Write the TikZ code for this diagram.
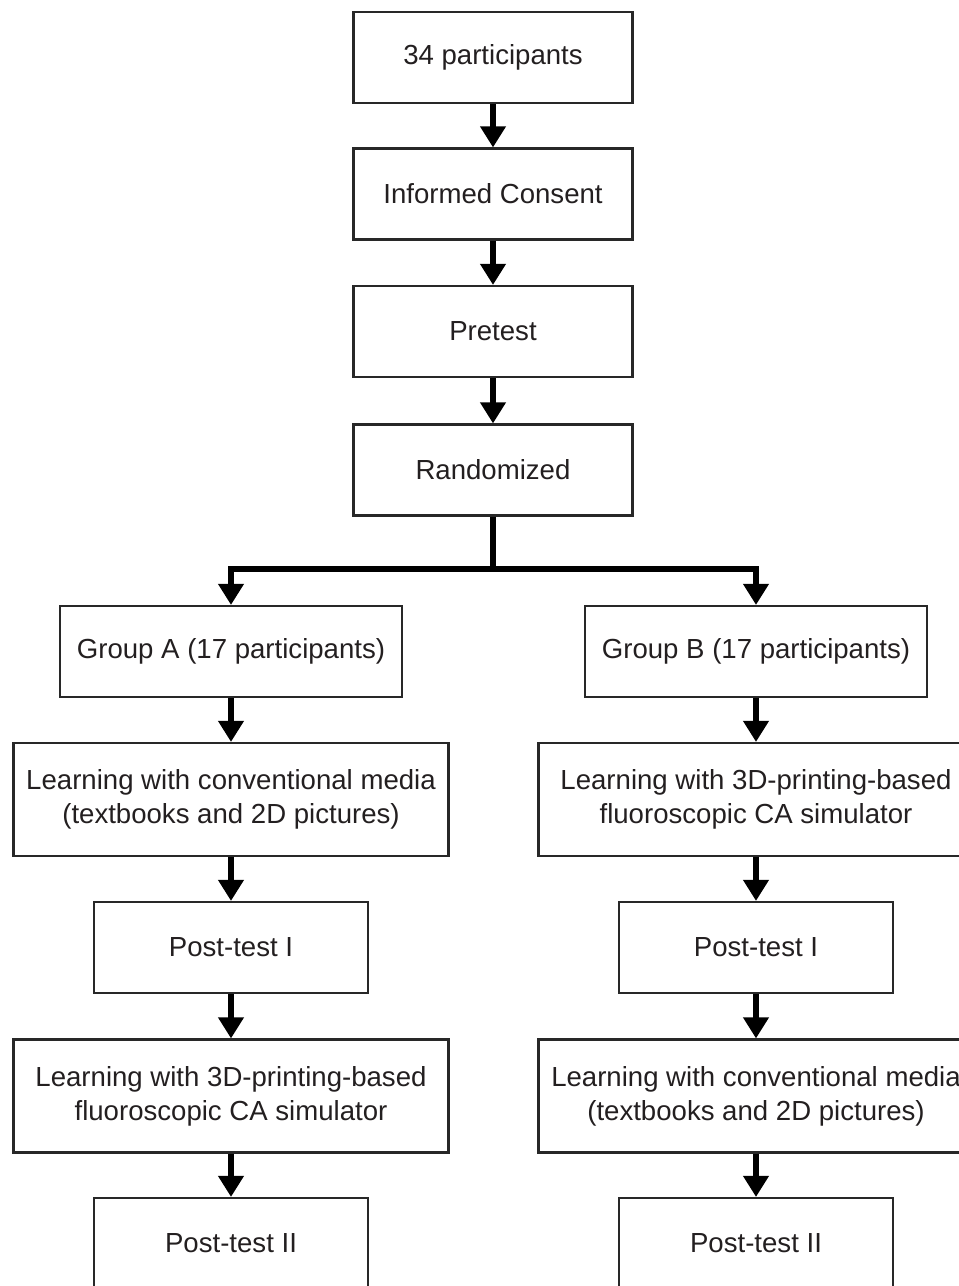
\documentclass[tikz,border=0pt]{standalone}
\usepackage{fontspec}
\setmainfont{Liberation Sans}
\usepackage{tikz}
\usetikzlibrary{arrows.meta}
\definecolor{boxline}{RGB}{40,40,40}
\definecolor{txtgray}{RGB}{35,31,32}

\begin{document}
\begin{tikzpicture}[font=\fontsize{15.7}{19.5}\selectfont, >={Triangle[width=14pt, length=12pt]},
   b/.style={draw=boxline, line width=1.2pt, text=txtgray, align=center, minimum width=5.58cm, minimum height=1.82cm, inner sep=2pt},
   wide/.style={b, minimum width=8.7cm, minimum height=2.26cm},
   a/.style={->, line width=3.4pt}]
  \useasboundingbox (0,0) rectangle (19.18,-25.72);
  % common part
  \node[b] (start) at (9.86,-1.15) {34 participants};
  \node[b] (consent) at (9.86,-3.88) {Informed Consent};
  \node[b] (pre) at (9.86,-6.63) {Pretest};
  \node[b] (rand) at (9.86,-9.40) {Randomized};
  \draw[a] (start) -- (consent); \draw[a] (consent) -- (pre); \draw[a] (pre) -- (rand);
  % group A
  \node[b, minimum width=6.84cm] (ga) at (4.62,-13.03) {Group A (17 participants)};
  \node[wide] (la1) at (4.62,-15.99) {Learning with conventional media\\(textbooks and 2D pictures)};
  \node[b, minimum width=5.48cm] (pa1) at (4.62,-18.95) {Post-test I};
  \node[wide] (la2) at (4.62,-21.92) {Learning with 3D-printing-based\\fluoroscopic CA simulator};
  \node[b, minimum width=5.48cm] (pa2) at (4.62,-24.87) {Post-test II};
  % group B
  \node[b, minimum width=6.84cm] (gb) at (15.12,-13.03) {Group B (17 participants)};
  \node[wide] (lb1) at (15.12,-15.99) {Learning with 3D-printing-based\\fluoroscopic CA simulator};
  \node[b, minimum width=5.48cm] (pb1) at (15.12,-18.95) {Post-test I};
  \node[wide] (lb2) at (15.12,-21.92) {Learning with conventional media\\(textbooks and 2D pictures)};
  \node[b, minimum width=5.48cm] (pb2) at (15.12,-24.87) {Post-test II};
  % split
  \coordinate (split) at (9.86,-11.38);
  \draw[line width=3.4pt] (rand) -- (split);
  \draw[a] (split) -| (ga); \draw[a] (split) -| (gb);
  \draw[a] (ga) -- (la1); \draw[a] (la1) -- (pa1); \draw[a] (pa1) -- (la2); \draw[a] (la2) -- (pa2);
  \draw[a] (gb) -- (lb1); \draw[a] (lb1) -- (pb1); \draw[a] (pb1) -- (lb2); \draw[a] (lb2) -- (pb2);
\end{tikzpicture}
\end{document}
